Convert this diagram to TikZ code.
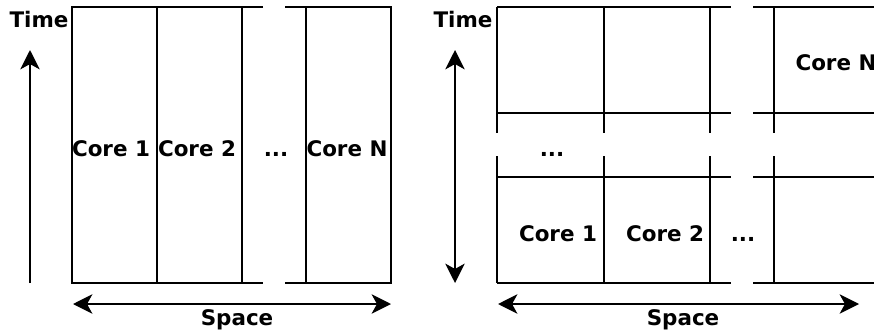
\documentclass[tikz,border=0pt]{standalone}
\usepackage{fontspec}
\setmainfont{DejaVu Sans}
\usetikzlibrary{arrows.meta}
\begin{document}
\begin{tikzpicture}[x=0.02cm, y=-0.02cm,
    grid/.style ={line width=1.4pt},
    axis/.style ={line width=1.3pt, >={Stealth[length=11pt, width=11pt, inset=3pt]}},
    word/.style ={font=\bfseries\fontsize{12.2}{14}\selectfont, inner sep=0pt, anchor=base}]
   \useasboundingbox (0,0) rectangle (874,331);

   % left: each core owns a column
   \node[word] (ltime)  at (39,28)   {Time};
   \node[word] (lcore1) at (111,156) {Core 1};
   \node[word] (lcore2) at (197,156) {Core 2};
   \node[word] (ldots)  at (276,156) {...};
   \node[word] (lcoreN) at (347,156) {Core N};
   \node[word] (lspace) at (237,325) {Space};

   \draw[grid] (263,7) -- (72,7) -- (72,283) -- (263,283);
   \draw[grid] (285,7) -- (391,7) -- (391,283) -- (285,283);
   \foreach \x in {157,242,306}
     \draw[grid] (\x,7) -- (\x,283);

   \coordinate (lt0) at (30,283);
   \coordinate (lt1) at (30,50);
   \coordinate (ls0) at (73,304);
   \coordinate (ls1) at (391,304);
   \draw[axis,->]  (lt0) to (lt1);
   \draw[axis,<->] (ls0) to (ls1);

   % right: cores split in space and in time
   \node[word] (rtime)  at (463,28)  {Time};
   \node[word] (rcoreN) at (836,71)  {Core N};
   \node[word] (rdots1) at (552,156) {...};
   \node[word] (rcore1) at (558,241) {Core 1};
   \node[word] (rcore2) at (665,241) {Core 2};
   \node[word] (rdots2) at (743,241) {...};
   \node[word] (rspace) at (683,325) {Space};

   \foreach \y in {7,113,177,283} {
     \draw[grid] (497,\y) -- (731,\y);
     \draw[grid] (753,\y) -- (874,\y);
   }
   \foreach \x in {497,604,710,774} {
     \draw[grid] (\x,7) -- (\x,133);
     \draw[grid] (\x,156) -- (\x,283);
   }

   \coordinate (rt0) at (455,283);
   \coordinate (rt1) at (455,50);
   \coordinate (rs0) at (498,304);
   \coordinate (rs1) at (859,304);
   \draw[axis,<->] (rt0) to (rt1);
   \draw[axis,<->] (rs0) to (rs1);

 \end{tikzpicture}
\end{document}
